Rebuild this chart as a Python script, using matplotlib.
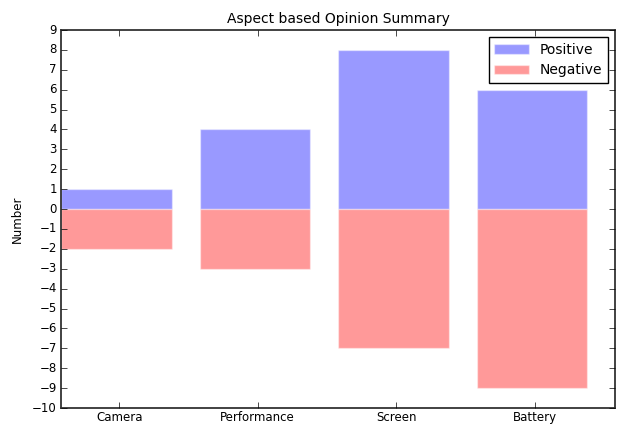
import numpy as np
from matplotlib import pyplot as plt

aspects = ["Camera", "Performance", "Screen", "Battery"]
positive = [1, 4, 8, 6]
negative = [-2, -3, -7, -9]

plt.style.use("classic")
plt.rcParams["font.family"] = "DejaVu Sans"

fig = plt.figure(figsize=(6.19, 4.24), dpi=100, facecolor="white")
ax = fig.add_axes([61 / 619, 16 / 424, 554 / 619, 378 / 424])

index = np.arange(len(aspects))
width = 0.8
ax.bar(index, positive, width, align="edge", color="blue", alpha=0.4,
       edgecolor="white", label="Positive")
ax.bar(index, negative, width, align="edge", color="red", alpha=0.4,
       edgecolor="white", label="Negative")

ax.set_xlim(0, 4)
ax.set_ylim(-10, 9)
ax.set_yticks(np.arange(-10, 10, 1))
ax.set_xticks(index + 0.42)
ax.set_xticklabels(aspects, fontsize=8.5)
ax.tick_params(axis="x", pad=2)
ax.tick_params(axis="y", labelsize=8.5, pad=3)
for s in ax.spines.values():
    s.set_linewidth(1.3)
    s.set_color("#333333")
ax.set_ylabel("Number", fontsize=8.5, labelpad=6)
ax.set_title("Aspect based Opinion Summary", fontsize=10)
ax.legend(loc="upper right", fontsize=10, handlelength=2.5, borderpad=0.4)

fig.savefig("out.png", dpi=100, facecolor="white")
